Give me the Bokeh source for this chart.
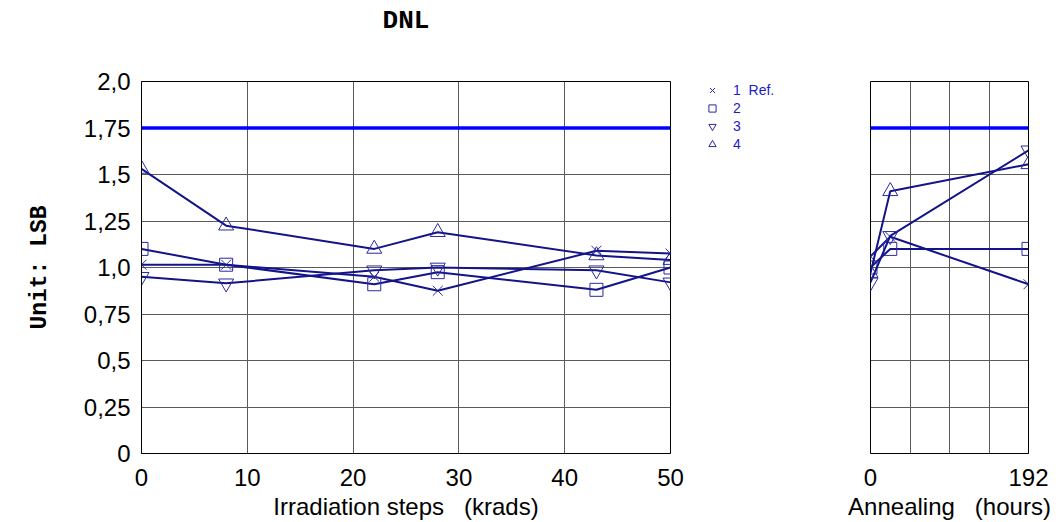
from bokeh.plotting import figure
from bokeh.layouts import row
from bokeh.models import FixedTicker, Span, Legend, LegendItem, Range1d, LinearAxis
from bokeh.embed import file_html
from bokeh.resources import INLINE

# ---------------- data ----------------
irr_x = [0, 8, 22, 28, 43, 50]
irr_s1 = [1.015, 1.015, 0.95, 0.875, 1.09, 1.075]
irr_s2 = [1.10, 1.015, 0.91, 0.975, 0.88, 1.00]
irr_s3 = [0.95, 0.915, 0.985, 1.00, 0.985, 0.92]
irr_s4 = [1.53, 1.225, 1.10, 1.19, 1.065, 1.04]

ann_x = [0, 24, 192]
ann_s1 = [1.06, 1.165, 0.91]
ann_s2 = [1.00, 1.10, 1.10]
ann_s3 = [0.92, 1.17, 1.63]
ann_s4 = [0.97, 1.41, 1.555]

limit = 1.75

series_names = ["1  Ref.", "2", "3", "4"]
y_ticks = [0, 0.25, 0.5, 0.75, 1.0, 1.25, 1.5, 1.75, 2.0]
y_tick_labels = ["0", "0,25", "0,5", "0,75", "1,0", "1,25", "1,5", "1,75", "2,0"]
irr_ticks = [0, 10, 20, 30, 40, 50]
irr_tick_labels = ["0", "10", "20", "30", "40", "50"]
ann_grid_ticks = [0, 48, 96, 144, 192]
ann_ticks = [0, 192]
ann_tick_labels = ["0", "192"]

title_text = "DNL"
y_label = "Unit: LSB"
irr_label = "Irradiation steps\u00a0\u00a0\u00a0(krads)"
ann_label = "Annealing\u00a0\u00a0\u00a0(hours)"

# ---------------- styles ----------------
marker_types = ["x", "square", "inverted_triangle", "triangle"]
marker_sizes = [14, 13, 15, 15]
LINE_COLOR = "#13138a"
MARK_COLOR = "#2a2a9e"
GRID_COLOR = "#5a5a5a"
SANS = "Liberation Sans"
MONO = "Liberation Mono"
H = 522


def style(p, xticks, xlabels, xgrid_ticks, xlabel_text, show_y):
    p.background_fill_color = "white"
    p.border_fill_color = "white"
    p.outline_line_color = "black"
    p.outline_line_width = 1
    p.outline_line_alpha = 1
    p.xgrid.grid_line_color = GRID_COLOR
    p.ygrid.grid_line_color = GRID_COLOR
    p.xgrid.ticker = FixedTicker(ticks=xgrid_ticks)
    p.ygrid.ticker = FixedTicker(ticks=y_ticks)
    xa = p.below[0]
    ya = p.left[0]
    xa.ticker = FixedTicker(ticks=xticks)
    xa.major_label_overrides = {t: l for t, l in zip(xticks, xlabels)}
    ya.ticker = FixedTicker(ticks=y_ticks)
    ya.major_label_overrides = {t: l for t, l in zip(y_ticks, y_tick_labels)}
    for ax in (xa, ya):
        ax.axis_line_color = "black"
        ax.axis_line_width = 1
        ax.major_tick_out = 0
        ax.major_tick_in = 0
        ax.minor_tick_out = 0
        ax.minor_tick_in = 0
        ax.major_label_text_font = SANS
        ax.major_label_text_font_size = "24px"
        ax.major_label_text_color = "black"
    xa.major_label_standoff = 15
    xa.axis_label = xlabel_text
    xa.axis_label_text_font = SANS
    xa.axis_label_text_font_size = "24px"
    xa.axis_label_text_font_style = "normal"
    xa.axis_label_text_color = "black"
    xa.axis_label_standoff = 4
    if show_y:
        ya.major_label_standoff = 11
        ya.axis_label = y_label
        ya.axis_label_text_font = MONO
        ya.axis_label_text_font_style = "bold"
        ya.axis_label_text_font_size = "23px"
        ya.axis_label_text_color = "black"
        ya.axis_label_standoff = 28
    else:
        ya.visible = False
    p.add_layout(Span(location=limit, dimension="width", line_color="#0000ff", line_width=3.5))


def draw(p, xs, ys_list, visible=True):
    rends = []
    for ys, mk, ms in zip(ys_list, marker_types, marker_sizes):
        if visible:
            p.line(xs, ys, line_color=LINE_COLOR, line_width=2)
        rends.append(p.scatter(xs, ys, marker=mk, size=ms, fill_color=None,
                               line_color=MARK_COLOR, line_width=1, visible=visible))
    return rends


# left: irradiation
p1 = figure(width=703, height=H, x_range=Range1d(0, 50), y_range=Range1d(0, 2.0),
            output_backend="svg", toolbar_location=None,
            min_border_left=141, min_border_right=33, min_border_top=81, min_border_bottom=H - 453)
style(p1, irr_ticks, irr_tick_labels, irr_ticks, irr_label, True)
# chart title, centred over the left frame (top axis without lines)
mid = (p1.x_range.start + p1.x_range.end) / 2
title_axis = LinearAxis(ticker=FixedTicker(ticks=[mid]), major_label_overrides={mid: title_text},
                        axis_line_color=None, major_tick_line_color=None,
                        major_tick_out=0, major_tick_in=0, minor_tick_out=0, minor_tick_in=0,
                        major_label_text_font=MONO, major_label_text_font_style="bold",
                        major_label_text_font_size="26px", major_label_text_color="black",
                        major_label_standoff=46)
p1.add_layout(title_axis, "above")
draw(p1, irr_x, [irr_s1, irr_s2, irr_s3, irr_s4])

# middle: legend holder
pm = figure(width=120, height=H, output_backend="svg", toolbar_location=None,
            x_axis_type=None, y_axis_type=None,
            min_border_left=0, min_border_right=0, min_border_top=0, min_border_bottom=0)
pm.outline_line_color = None
pm.grid.visible = False
pm.background_fill_color = "white"
pm.border_fill_color = "white"
leg_rends = draw(pm, irr_x, [irr_s1, irr_s2, irr_s3, irr_s4], visible=False)
legend = Legend(items=[LegendItem(label=n, renderers=[r]) for n, r in zip(series_names, leg_rends)],
                location="top_left", orientation="vertical",
                glyph_width=18, glyph_height=18, label_height=18, spacing=0,
                padding=0, margin=0, label_standoff=12,
                label_text_font=SANS, label_text_font_size="14px", label_text_color="#1c1cc8",
                border_line_color=None, background_fill_alpha=0, inactive_fill_alpha=0)
pm.add_layout(legend, "center")

# right: annealing
p2 = figure(width=239, height=H, x_range=Range1d(0, 192), y_range=Range1d(0, 2.0),
            output_backend="svg", toolbar_location=None,
            min_border_left=47, min_border_right=34, min_border_top=81, min_border_bottom=H - 453)
style(p2, ann_ticks, ann_tick_labels, ann_grid_ticks, ann_label, False)
draw(p2, ann_x, [ann_s1, ann_s2, ann_s3, ann_s4])

layout = row(p1, pm, p2, spacing=0)
open("out.html", "w").write(file_html(layout, INLINE))
